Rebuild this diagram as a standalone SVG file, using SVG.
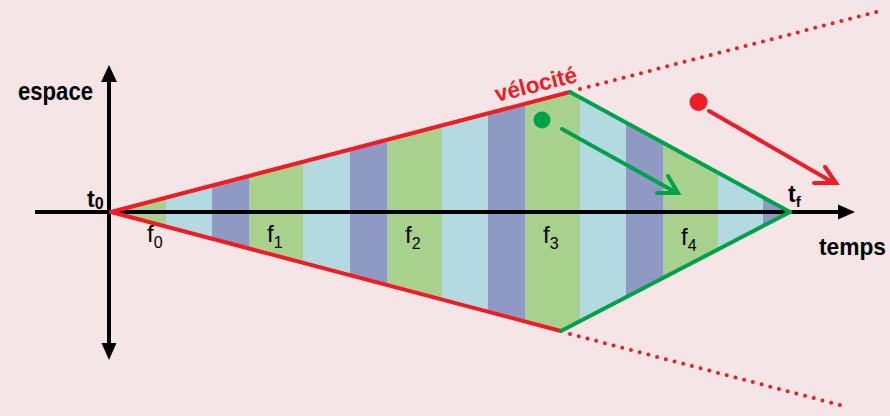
<svg xmlns="http://www.w3.org/2000/svg" width="890" height="416" viewBox="0 0 890 416">
<defs>
<style>
.g{fill:#a9d18e}
.lb{fill:#b2dae0}
.db{fill:#8e9ac3}
.ax{stroke:#000;stroke-width:4;fill:none}
.red{stroke:#ee1c25;stroke-width:4;fill:none;stroke-linecap:round}
.grn{stroke:#00a14b;stroke-width:4;fill:none;stroke-linecap:round}
.dot{stroke:#ee1c25;stroke-width:4;fill:none;stroke-linecap:round;stroke-dasharray:0 9}
.lbl{font-family:"Liberation Sans",Arial,sans-serif;font-weight:bold;fill:#000}
.f{font-family:"Liberation Sans",Arial,sans-serif;fill:#000;font-size:24px}
.sub{font-size:16px}
</style>
<clipPath id="shape"><polygon points="111,212 570,92 790,212 561,331"/></clipPath>
</defs>
<rect width="890" height="416" fill="#f6e5e6"/>
<g id="stripes" clip-path="url(#shape)">
<rect class="g" x="111" y="80" width="55" height="260"/>
<rect class="lb" x="166" y="80" width="46" height="260"/>
<rect class="db" x="212" y="80" width="37" height="260"/>
<rect class="g" x="249" y="80" width="54" height="260"/>
<rect class="lb" x="303" y="80" width="47" height="260"/>
<rect class="db" x="350" y="80" width="37" height="260"/>
<rect class="g" x="387" y="80" width="55" height="260"/>
<rect class="lb" x="442" y="80" width="46" height="260"/>
<rect class="db" x="488" y="80" width="37" height="260"/>
<rect class="g" x="525" y="80" width="55" height="260"/>
<rect class="lb" x="580" y="80" width="46" height="260"/>
<rect class="db" x="626" y="80" width="37" height="260"/>
<rect class="g" x="663" y="80" width="55" height="260"/>
<rect class="lb" x="718" y="80" width="45" height="260"/>
<rect class="db" x="763" y="80" width="30" height="260"/>
</g>
<g id="axes">
<line class="ax" x1="35" y1="212" x2="840" y2="212"/>
<polygon points="838,204.5 855,212 838,219.5" fill="#000"/>
<line class="ax" x1="109" y1="80" x2="109" y2="344"/>
<polygon points="101,82 109,65 117,82" fill="#000"/>
<polygon points="101.5,343 109,360 116.5,343" fill="#000"/>
</g>
<g id="connectors">
<line class="red" x1="111" y1="212" x2="570" y2="92"/>
<line class="red" x1="111" y1="212" x2="561" y2="331"/>
<line class="grn" x1="570" y1="92" x2="790" y2="212"/>
<line class="grn" x1="561" y1="331" x2="790" y2="212"/>
<line class="dot" x1="580" y1="89" x2="880" y2="11"/>
<line class="dot" x1="570" y1="334" x2="840" y2="405"/>
</g>
<g id="green-particle">
<circle cx="542" cy="120" r="8.5" fill="#00a14b"/>
<line class="grn" x1="562" y1="129" x2="677" y2="193"/>
<polyline class="grn" points="657,193 678,193 668,176"/>
</g>
<g id="red-particle">
<circle cx="698.5" cy="102" r="9" fill="#ee1c25"/>
<line class="red" x1="709" y1="111" x2="834" y2="183"/>
<polyline class="red" points="814,183 836,183 825,167"/>
</g>
<g id="labels">
<text class="lbl" x="18" y="100" font-size="25" textLength="75" lengthAdjust="spacingAndGlyphs">espace</text>
<text class="lbl" x="819" y="255" font-size="24" textLength="67" lengthAdjust="spacingAndGlyphs">temps</text>
<text class="lbl" x="497" y="102" font-size="23" style="fill:#ee1c25" transform="rotate(-14 497 102)" textLength="84" lengthAdjust="spacingAndGlyphs">vélocité</text>
<text class="lbl" x="87" y="207" font-size="23">t<tspan font-size="16" dy="2">0</tspan></text>
<text class="lbl" x="788" y="202" font-size="23">t<tspan font-size="15" dy="5">f</tspan></text>
<text class="f" x="147" y="242">f<tspan class="sub" dy="6">0</tspan></text>
<text class="f" x="267" y="242">f<tspan class="sub" dy="6">1</tspan></text>
<text class="f" x="405" y="243">f<tspan class="sub" dy="6">2</tspan></text>
<text class="f" x="543" y="243">f<tspan class="sub" dy="6">3</tspan></text>
<text class="f" x="681" y="245">f<tspan class="sub" dy="6">4</tspan></text>
</g>
</svg>
